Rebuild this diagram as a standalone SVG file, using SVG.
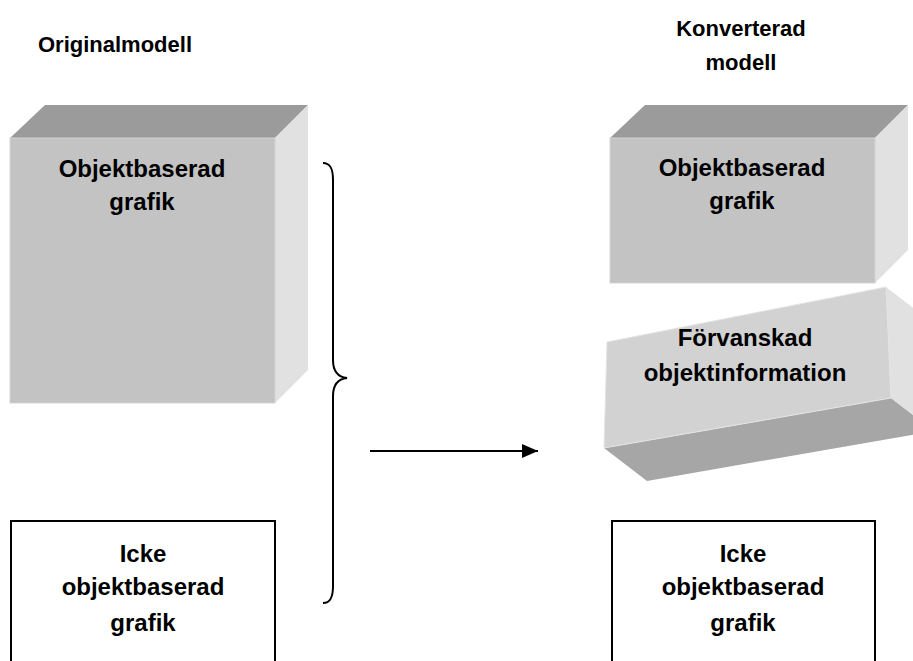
<svg xmlns="http://www.w3.org/2000/svg" width="913" height="661" viewBox="0 0 913 661">
  <style>
    text { font-family: "Liberation Sans", Arial, sans-serif; font-weight: bold; fill: #000; text-anchor: middle; }
    .lbl { font-size: 24px; }
    .head { font-size: 22px; }
    .top { fill: #9b9b9b; }
    .front { fill: #c3c3c3; stroke: #d4d4d4; stroke-width: 1; }
    .side { fill: #e1e1e1; }
    .under { fill: #a6a6a6; }
    .plain { fill: #fff; stroke: #000; stroke-width: 2; }
    .conn { fill: none; stroke: #000; stroke-width: 2; }
  </style>
  <defs>
    <marker id="arrowhead" viewBox="0 0 16 14" refX="16" refY="7" markerWidth="16" markerHeight="14" markerUnits="userSpaceOnUse" orient="auto">
      <path d="M0,0 L16,7 L0,14 z" fill="#000"/>
    </marker>
  </defs>
  <rect width="913" height="661" fill="#fff"/>

  <g id="heading-original">
    <text class="head" x="115" y="52">Originalmodell</text>
  </g>
  <g id="heading-converted">
    <text class="head" x="741" y="36">Konverterad</text>
    <text class="head" x="741" y="70">modell</text>
  </g>

  <!-- original object-based graphics cube -->
  <g id="orig-object">
    <polygon class="top" points="10,138 45,105 308,105 275,138"/>
    <polygon class="side" points="275,138 308,105 308,370 275,403"/>
    <rect class="front" x="10" y="138" width="265" height="265"/>
    <text class="lbl" x="142" y="177">Objektbaserad</text>
    <text class="lbl" x="142" y="210">grafik</text>
  </g>

  <!-- converted object-based graphics cube -->
  <g id="conv-object">
    <polygon class="top" points="610,138 645,105 908,105 875,138"/>
    <polygon class="side" points="875,138 908,105 908,250 875,283"/>
    <rect class="front" x="610" y="138" width="265" height="145"/>
    <text class="lbl" x="742" y="176">Objektbaserad</text>
    <text class="lbl" x="742" y="209">grafik</text>
  </g>

  <!-- tilted block with distorted object data -->
  <g id="distorted">
    <polygon class="under" points="604,448 891,398 934,431 647,481"/>
    <polygon class="side" points="886,287 929,320 934,431 891,398"/>
    <polygon points="607,342 886,287 891,398 604,448" fill="#d2d2d2" stroke="#e4e4e4" stroke-width="1"/>
    <text class="lbl" x="745" y="346">Förvanskad</text>
    <text class="lbl" x="745" y="381">objektinformation</text>
  </g>

  <g id="orig-plain">
    <rect class="plain" x="11" y="521" width="264" height="150"/>
    <text class="lbl" x="143" y="562">Icke</text>
    <text class="lbl" x="143" y="595">objektbaserad</text>
    <text class="lbl" x="143" y="631">grafik</text>
  </g>

  <g id="conv-plain">
    <rect class="plain" x="612" y="521" width="263" height="150"/>
    <text class="lbl" x="743" y="562">Icke</text>
    <text class="lbl" x="743" y="595">objektbaserad</text>
    <text class="lbl" x="743" y="631">grafik</text>
  </g>

  <g id="connectors">
    <!-- curly brace grouping the original model -->
    <path class="conn" d="M323,163 C330,163 333,168 333,180 L333,360 C333,372 338,377 347,378 C338,379 333,384 333,396 L333,586 C333,598 330,603 323,603"/>
    <line class="conn" x1="370" y1="451" x2="538" y2="451" stroke-width="2.5" marker-end="url(#arrowhead)"/>
  </g>
</svg>
